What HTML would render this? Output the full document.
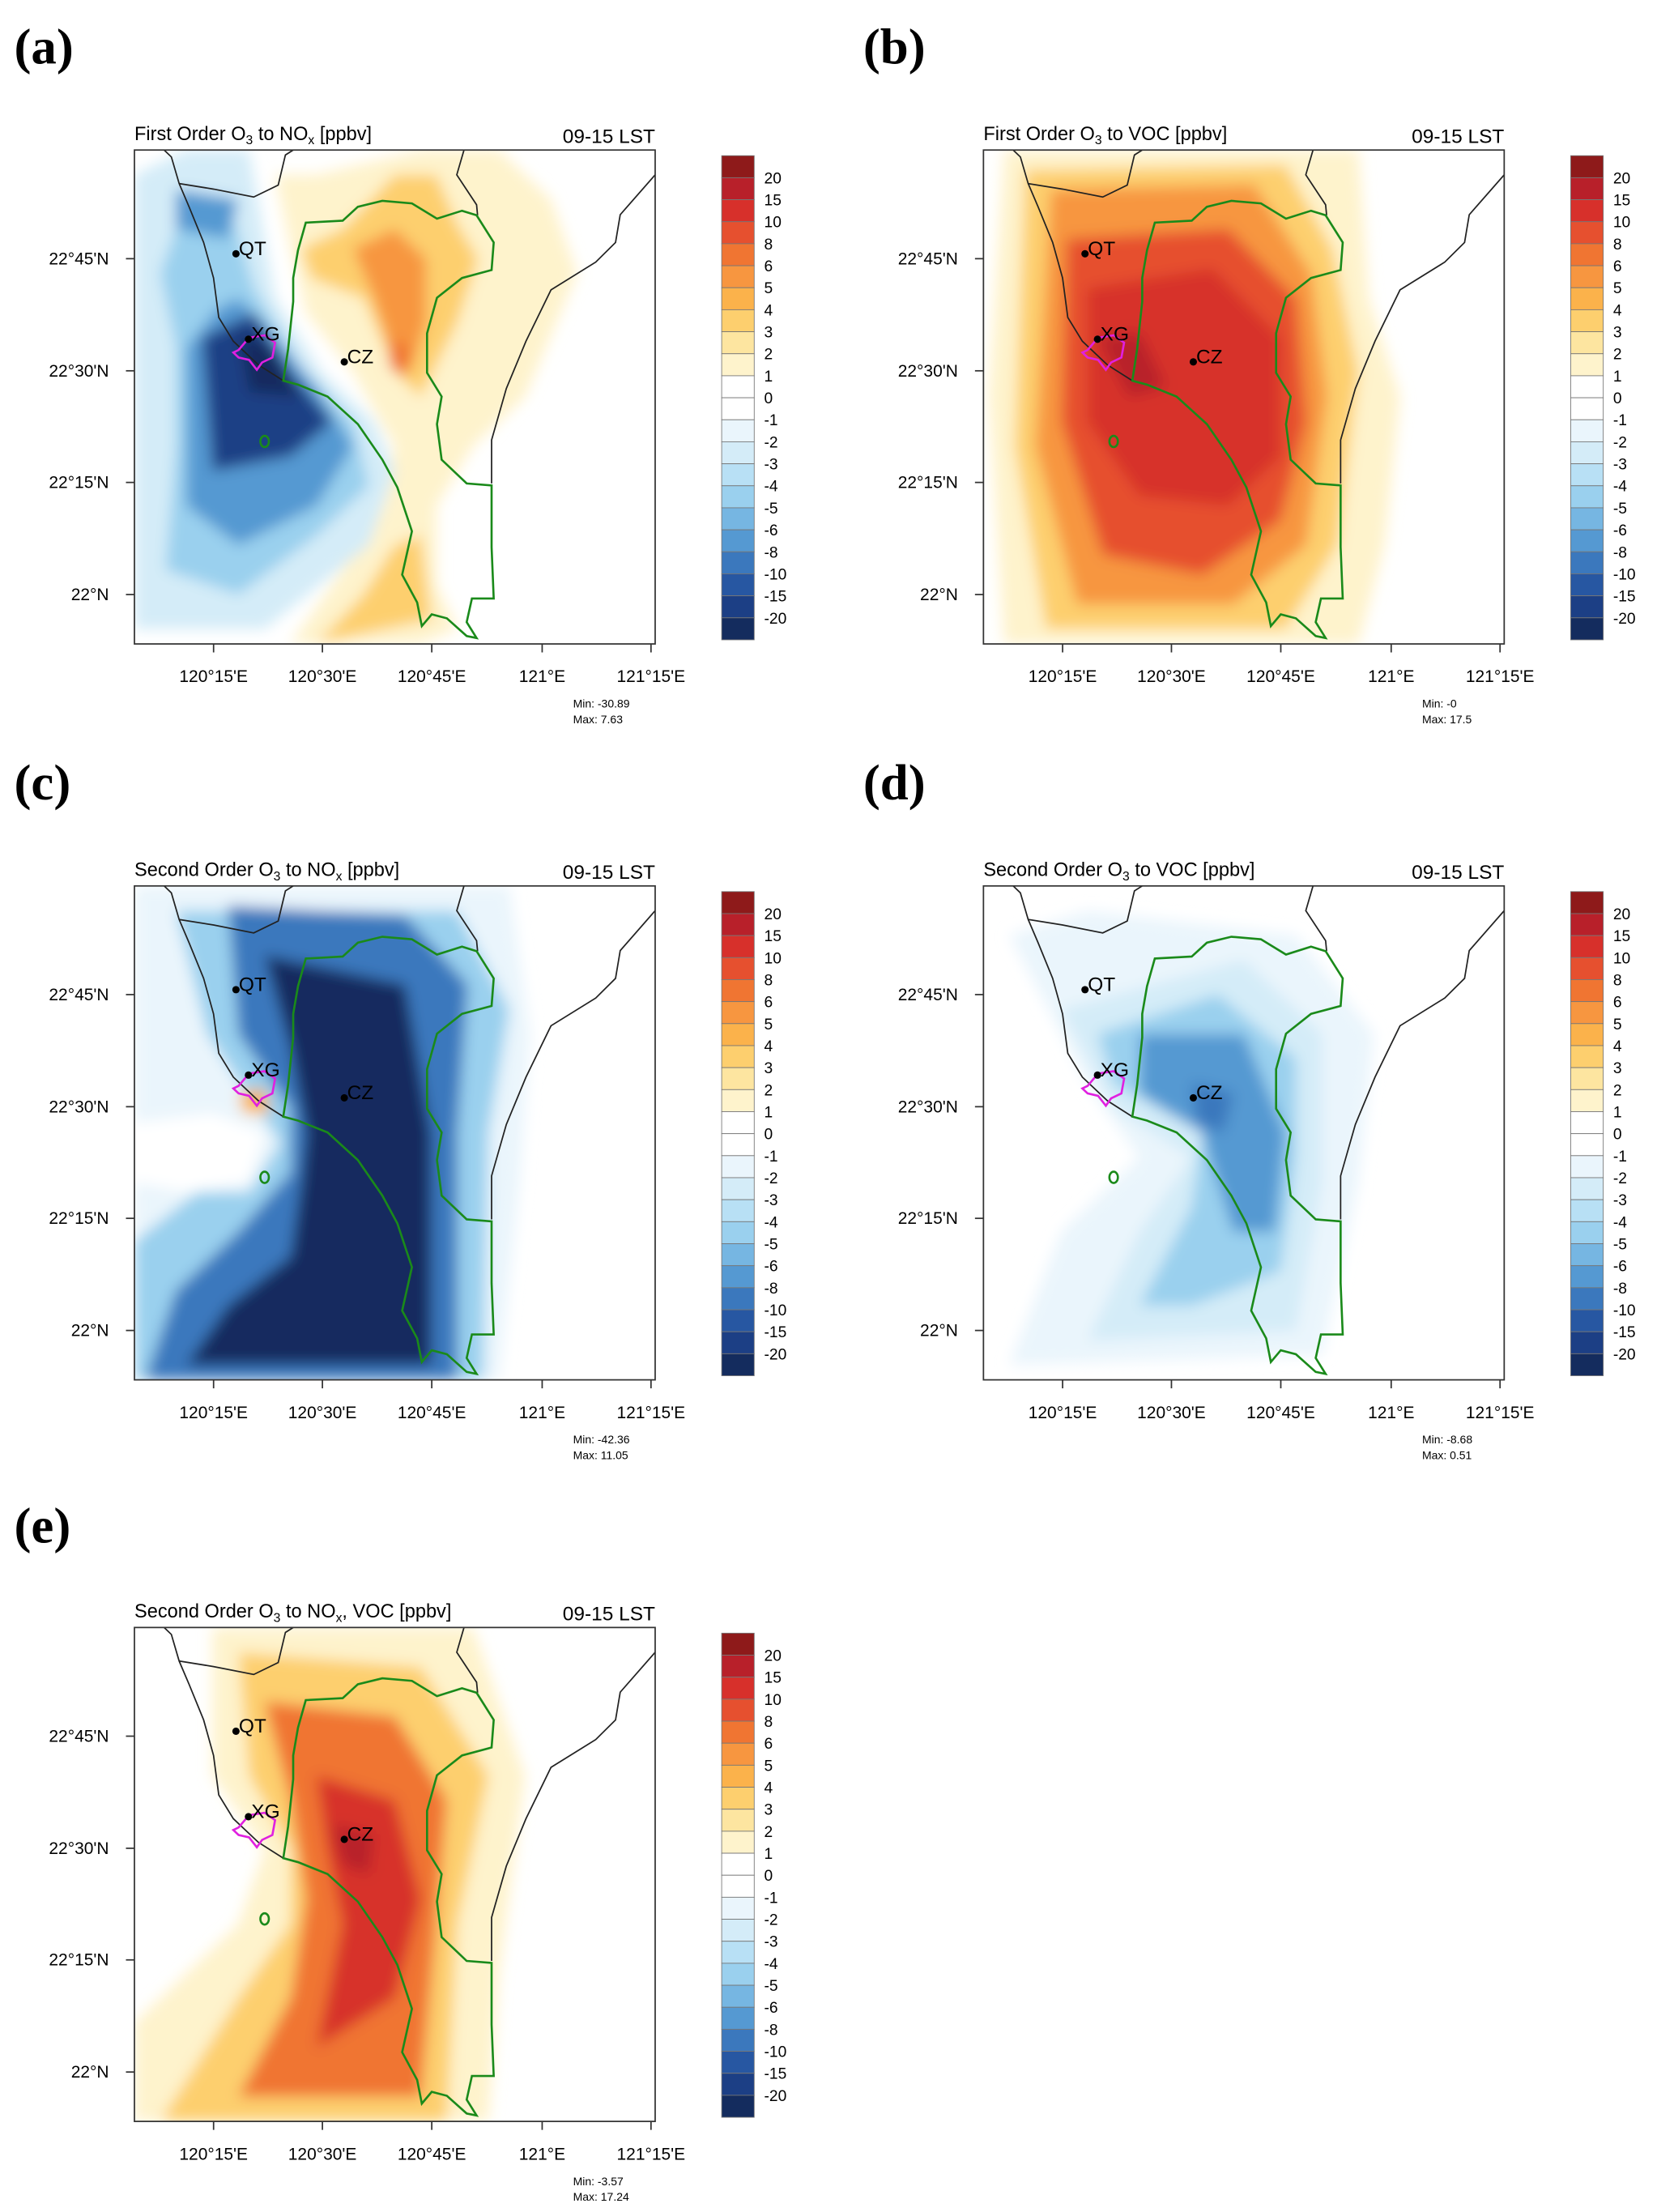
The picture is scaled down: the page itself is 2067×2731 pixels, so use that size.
<!DOCTYPE html>
<html><head><meta charset="utf-8"><style>
html,body{margin:0;padding:0;background:#fff;}
svg{display:block;font-family:"Liberation Sans",sans-serif;}
</style></head><body>
<svg id="fig" width="2067" height="2731" viewBox="0 0 1183 1563" xmlns="http://www.w3.org/2000/svg">
<defs>
<filter id="bl" x="-5%" y="-5%" width="110%" height="110%"><feGaussianBlur stdDeviation="5"/></filter>
</defs>
</svg>
<script>
const NS="http://www.w3.org/2000/svg";
const svg=document.getElementById('fig');
// colorbar data
const levelLabels=["20","15","10","8","6","5","4","3","2","1","0","-1","-2","-3","-4","-5","-6","-8","-10","-15","-20"];
const levelColors=["#8e1a1a","#b8202a","#d7302b","#e6502f","#f07532","#f79640","#fbb24b","#fdcf6e","#fde5a0","#fef3cc","#ffffff","#ffffff","#eaf5fc","#d4ecf8","#b8e0f5","#9ad0ee","#76b6e2","#5599d2","#3b78bd","#2757a2","#1c3f85","#142c5e"];
// map lines (normalized)
const coastLeft=[[.057,0],[.071,.014],[.086,.068],[.105,.115],[.133,.187],[.152,.259],[.162,.339],[.19,.387],[.238,.435],[.286,.467]];
const bayLine=[[.086,.068],[.152,.079],[.229,.095],[.276,.071],[.29,.01],[.305,0]];
const riverLine=[[.633,0],[.619,.05],[.657,.111],[.659,.132]];
const eastCoast=[[1,.05],[.933,.131],[.924,.187],[.886,.227],[.8,.283],[.752,.387],[.714,.483],[.686,.587],[.686,.675]];
const county=[[.286,.467],[.295,.403],[.305,.307],[.305,.259],[.314,.203],[.329,.147],[.4,.143],[.429,.115],[.476,.103],[.533,.108],[.581,.139],[.629,.123],[.657,.132],[.69,.187],[.686,.243],[.629,.259],[.581,.299],[.562,.371],[.562,.451],[.59,.499],[.581,.555],[.59,.627],[.638,.675],[.686,.679],[.686,.804],[.69,.908],[.648,.908],[.638,.956],[.657,.988],[.638,.984],[.6,.948],[.571,.94],[.552,.964],[.543,.916],[.514,.86],[.533,.772],[.505,.683],[.476,.627],[.429,.555],[.371,.499],[.314,.475]];
const xgArea=[[.2,.405],[.22,.38],[.25,.375],[.27,.39],[.265,.42],[.245,.43],[.235,.445],[.22,.425],[.2,.42],[.19,.41]];
const sites=[["QT",.195,.21],["XG",.219,.383],["CZ",.403,.429]];
const latLabels=["22°45'N","22°30'N","22°15'N","22°N"];
const latPos=[.22,.447,.673,.9];
const lonLabels=["120°15'E","120°30'E","120°45'E","121°E","121°15'E"];
const lonPos=[.152,.361,.571,.783,.992];
// fields: [colorIndex, polygon]
const fieldA=[
[9,[[.27,.05],[.35,.05],[.55,0],[.7,0],[.8,.1],[.85,.25],[.75,.5],[.65,.6],[.58,.72],[.58,.88],[.62,.97],[.55,1],[.3,1],[.4,.85],[.48,.72],[.5,.6],[.42,.45],[.33,.33],[.3,.2]]],
[7,[[.32,.2],[.4,.16],[.5,.05],[.58,.05],[.62,.15],[.66,.22],[.62,.35],[.55,.5],[.5,.45],[.44,.3],[.34,.26]]],
[7,[[.5,.8],[.55,.78],[.57,.95],[.35,1],[.44,.9]]],
[5,[[.42,.2],[.5,.16],[.56,.22],[.56,.35],[.53,.45],[.49,.4],[.46,.3]]],
[4,[[.49,.38],[.53,.4],[.52,.46],[.49,.44]]],
[13,[[0,.05],[.1,0],[.22,0],[.27,.3],[.36,.45],[.46,.55],[.5,.65],[.45,.8],[.25,.97],[0,.97]]],
[15,[[.05,.25],[.1,.1],[.18,.1],[.23,.28],[.32,.44],[.42,.55],[.45,.68],[.35,.78],[.2,.9],[.06,.85],[.08,.6],[.08,.4]]],
[17,[[.1,.4],[.16,.32],[.2,.3],[.25,.35],[.35,.48],[.42,.6],[.35,.72],[.2,.8],[.1,.72]]],
[17,[[.08,.08],[.2,.1],[.18,.18],[.08,.16]]],
[20,[[.13,.38],[.23,.33],[.3,.45],[.38,.55],[.3,.62],[.15,.65]]],
[21,[[.2,.37],[.27,.4],[.32,.5],[.22,.49]]]];
const fieldB=[
[9,[[.04,0],[.72,0],[.74,.3],[.8,.5],[.77,.8],[.72,1],[.04,1],[.01,.5]]],
[7,[[.08,.04],[.58,.03],[.67,.2],[.72,.45],[.68,.8],[.58,.97],[.12,.97],[.06,.6]]],
[5,[[.13,.08],[.52,.07],[.63,.25],[.66,.5],[.62,.8],[.48,.92],[.18,.92],[.1,.6]]],
[3,[[.16,.18],[.47,.16],[.6,.3],[.62,.55],[.57,.75],[.42,.86],[.23,.82],[.15,.55]]],
[2,[[.2,.28],[.44,.24],[.57,.38],[.57,.62],[.47,.72],[.3,.7],[.2,.55]]],
[1,[[.22,.38],[.3,.37],[.35,.48],[.28,.5]]]];
const fieldC=[
[12,[[0,0],[.72,0],[.76,.3],[.74,.6],[.7,1],[0,1]]],
[15,[[.08,.05],[.62,.05],[.72,.25],[.68,.5],[.67,1],[0,1],[0,.72],[.12,.62],[.22,.62],[.28,.52],[.14,.3]]],
[18,[[.18,.04],[.52,.06],[.64,.2],[.62,.5],[.62,1],[.02,1],[.08,.82],[.2,.7],[.3,.58],[.3,.45],[.2,.3]]],
[21,[[.25,.14],[.52,.2],[.57,.5],[.57,.97],[.1,.97],[.18,.85],[.3,.75],[.32,.6],[.33,.5],[.3,.33]]],
[11,[[.0,.48],[.15,.46],[.25,.5],[.22,.6],[.1,.62],[0,.6]]],
[6,[[.2,.42],[.25,.41],[.26,.46],[.21,.46]]]];
const fieldD=[
[12,[[.05,.1],[.2,.05],[.6,.1],[.75,.3],[.72,.6],[.65,.95],[.05,.97],[.15,.7],[.3,.55],[.2,.4]]],
[13,[[.15,.25],[.5,.15],[.65,.3],[.65,.6],[.6,.9],[.2,.92],[.3,.7],[.4,.55],[.25,.45]]],
[15,[[.22,.3],[.45,.22],[.6,.35],[.6,.55],[.57,.78],[.4,.85],[.3,.85],[.4,.65],[.42,.5],[.25,.4]]],
[17,[[.3,.3],[.5,.3],[.58,.5],[.56,.7],[.48,.7],[.42,.5],[.3,.42]]],
[18,[[.4,.4],[.48,.42],[.46,.5],[.41,.48]]]];
const fieldE=[
[9,[[.15,0],[.65,0],[.75,.3],[.7,.7],[.68,1],[0,1],[0,.8],[.2,.6],[.25,.45],[.15,.3]]],
[7,[[.2,.05],[.55,.08],[.68,.3],[.62,.6],[.6,1],[.05,1],[.2,.75],[.3,.6],[.3,.45],[.22,.3]]],
[4,[[.25,.15],[.5,.18],[.6,.35],[.58,.6],[.55,.95],[.2,.95],[.3,.75],[.33,.55],[.3,.35]]],
[2,[[.35,.3],[.5,.35],[.55,.55],[.5,.75],[.35,.85],[.4,.6],[.37,.45]]],
[1,[[.38,.4],[.46,.42],[.45,.5],[.4,.48]]]];

const panels=[
{id:"a",lx:10,ly:45,mx:95,my:106,title:["First Order O","3"," to NO","x"," [ppbv]"],min:"-30.89",max:"7.63",f:fieldA},
{id:"b",lx:610,ly:45,mx:695,my:106,title:["First Order O","3"," to VOC [ppbv]"],min:"-0",max:"17.5",f:fieldB},
{id:"c",lx:10,ly:565,mx:95,my:626,title:["Second Order O","3"," to NO","x"," [ppbv]"],min:"-42.36",max:"11.05",f:fieldC},
{id:"d",lx:610,ly:565,mx:695,my:626,title:["Second Order O","3"," to VOC [ppbv]"],min:"-8.68",max:"0.51",f:fieldD},
{id:"e",lx:10,ly:1090,mx:95,my:1150,title:["Second Order O","3"," to NO","x",", VOC [ppbv]"],min:"-3.57",max:"17.24",f:fieldE}];
const W=368,H=349;
function mk(tag,attrs,parent){const e=document.createElementNS(NS,tag);for(const k in attrs)e.setAttribute(k,attrs[k]);(parent||svg).appendChild(e);return e;}
function pts(arr,x0,y0){return arr.map(p=>(x0+p[0]*W).toFixed(1)+","+(y0+p[1]*H).toFixed(1)).join(" ");}

panels.forEach(p=>{
  const g=mk('g',{});
  
  
  const lab=mk('text',{x:p.lx,y:p.ly,'font-family':'Liberation Serif,serif','font-weight':'bold','font-size':'36'},g);
  lab.textContent='('+p.id+')';
  
  
  const t=mk('text',{x:p.mx,y:p.my-7,'font-size':'13.5'},g);
  
  
  p.title.forEach((s,i)=>{const ts=mk('tspan',{},t);if(i%2==1){ts.setAttribute('font-size','9');ts.setAttribute('dy','3');}else if(i>0){ts.setAttribute('dy','-3');}ts.textContent=s;});
  const lst=mk('text',{x:p.mx+W,y:p.my-5,'font-size':'14','text-anchor':'end'},g);
  lst.textContent='09-15 LST';
  
  
  const cp=mk('clipPath',{id:'cp'+p.id},g);
  mk('rect',{x:p.mx,y:p.my,width:W,height:H},cp);
  const fg=mk('g',{'clip-path':'url(#cp'+p.id+')'},g);
  
  
  const fb=mk('g',{filter:'url(#bl)'},fg);
  p.f.forEach(([ci,poly])=>{mk('polygon',{points:pts(poly,p.mx,p.my),fill:levelColors[ci]},fb);});
  const lg=mk('g',{'clip-path':'url(#cp'+p.id+')',fill:'none'},g);
  
  
  [coastLeft,bayLine,riverLine,eastCoast].forEach(l=>mk('polyline',{points:pts(l,p.mx,p.my),stroke:'#222','stroke-width':'1'},lg));
  mk('polygon',{points:pts(county,p.mx,p.my),stroke:'#1a8a1a','stroke-width':'1.5',fill:'none'},lg);
  mk('ellipse',{cx:p.mx+.25*W,cy:p.my+.59*H,rx:3,ry:4,stroke:'#1a8a1a','stroke-width':'1.5'},lg);
  mk('polygon',{points:pts(xgArea,p.mx,p.my),stroke:'#e020e0','stroke-width':'1.5',fill:'none'},lg);
  sites.forEach(s=>{
    const sg=mk('g',{},g);
    
    
    mk('circle',{cx:p.mx+s[1]*W,cy:p.my+s[2]*H,r:2.6,fill:'#000'},sg);
    const st=mk('text',{x:p.mx+s[1]*W+2,y:p.my+s[2]*H+1,'font-size':'14'},sg);
    st.textContent=s[0];
  });
  const fr=mk('rect',{x:p.mx,y:p.my,width:W,height:H,fill:'none',stroke:'#333','stroke-width':'1'},g);
  
  
  latLabels.forEach((s,i)=>{
    const y=p.my+latPos[i]*H;
    mk('line',{x1:p.mx-6,x2:p.mx,y1:y,y2:y,stroke:'#333'},g);
    const lt=mk('text',{x:p.mx-18,y:y+4,'font-size':'12','text-anchor':'end'},g);
    lt.textContent=s;
    
    
  });
  lonLabels.forEach((s,i)=>{
    const x=p.mx+lonPos[i]*W;
    mk('line',{x1:x,x2:x,y1:p.my+H,y2:p.my+H+6,stroke:'#333'},g);
    const lt=mk('text',{x:x,y:p.my+H+27,'font-size':'12','text-anchor':'middle'},g);
    lt.textContent=s;
    
    
  });
  const mn=mk('text',{x:p.mx+310,y:p.my+H+45,'font-size':'8'},g);mn.textContent='Min:  '+p.min;
  
  
  const mx=mk('text',{x:p.mx+310,y:p.my+H+56,'font-size':'8'},g);mx.textContent='Max:  '+p.max;
  
  
  const cb=mk('g',{},g);
  
  
  const cx=p.mx+W+47, cy=p.my+4, step=15.55;
  levelColors.forEach((c,i)=>{mk('rect',{x:cx,y:cy+i*step,width:23,height:step,fill:c,stroke:'#777','stroke-width':'0.5'},cb);});
  levelLabels.forEach((s,i)=>{const lt=mk('text',{x:cx+30,y:cy+(i+1)*step+4,'font-size':'11'},cb);lt.textContent=s;});
});
</script>
</body></html>
